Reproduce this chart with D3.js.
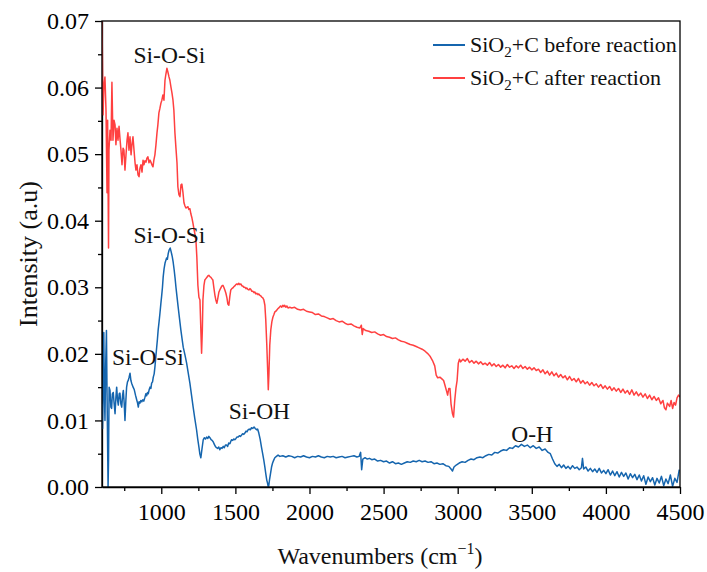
<!DOCTYPE html>
<html>
<head>
<meta charset="utf-8">
<script src="https://cdn.jsdelivr.net/npm/d3@7"></script>
<style>
  body { margin: 0; background: #fff; }
  svg text { font-family: "Liberation Serif", "Times New Roman", "DejaVu Serif", serif; }
</style>
</head>
<body>
<div id="chart"></div>
<script>
(function() {
    const width = 707;
    const height = 572;
    const margin = { top: 21, right: 27, bottom: 85, left: 102 };
    const plotW = width - margin.left - margin.right;
    const plotH = height - margin.top - margin.bottom;
    const serif = "'Liberation Serif', 'Times New Roman', serif";

    // FTIR spectra: [wavenumber, intensity]
    const beforeReaction = [
        [600,0.0125],[604,0.0088],[608,0.0150],[612,0.0232],[616,0.0140],[620,0.0100],[625,0.0185],[630,0.0235],
        [634,0.0140],[638,0.0060],[641,0.0000],[644,0.0040],[648,0.0150],[654,0.0145],[660,0.0120],[665,0.0118],
        [670,0.0140],[676,0.0142],[682,0.0125],[688,0.0110],[694,0.0135],[699,0.0150],[705,0.0130],[710,0.0123],
        [716,0.0140],[721,0.0141],[727,0.0125],[733,0.0120],[739,0.0138],[744,0.0145],[750,0.0125],[755,0.0100],
        [761,0.0130],[766,0.0150],[772,0.0158],[777,0.0160],[783,0.0165],[789,0.0171],[795,0.0160],[800,0.0156],
        [810,0.0150],[818,0.0146],[826,0.0138],[834,0.0131],[840,0.0126],[845,0.0120],[850,0.0128],[856,0.0126],
        [862,0.0130],[868,0.0128],[875,0.0131],[882,0.0129],[890,0.0135],[896,0.0140],[901,0.0137],[907,0.0142],
        [912,0.0140],[918,0.0146],[924,0.0150],[930,0.0148],[935,0.0156],[941,0.0158],[946,0.0165],[952,0.0170],
        [957,0.0180],[963,0.0195],[969,0.0210],[974,0.0222],[979,0.0236],[985,0.0248],[991,0.0261],[997,0.0275],
        [1002,0.0286],[1008,0.0300],[1013,0.0316],[1019,0.0328],[1025,0.0336],[1030,0.0340],[1036,0.0344],[1041,0.0342],
        [1047,0.0351],[1053,0.0356],[1060,0.0359],[1066,0.0354],[1070,0.0350],[1074,0.0346],[1080,0.0338],[1087,0.0326],
        [1093,0.0314],[1099,0.0300],[1106,0.0286],[1114,0.0270],[1123,0.0253],[1132,0.0236],[1140,0.0223],[1148,0.0210],
        [1160,0.0198],[1171,0.0186],[1182,0.0171],[1193,0.0156],[1204,0.0138],[1215,0.0120],[1226,0.0103],[1238,0.0086],
        [1246,0.0072],[1254,0.0060],[1260,0.0050],[1267,0.0044],[1274,0.0056],[1283,0.0071],[1290,0.0074],[1298,0.0072],
        [1306,0.0075],[1314,0.0073],[1321,0.0076],[1328,0.0074],[1336,0.0071],[1343,0.0070],[1350,0.0068],[1358,0.0064],
        [1365,0.0061],[1373,0.0059],[1380,0.0058],[1388,0.0060],[1395,0.0056],[1403,0.0059],[1410,0.0058],[1418,0.0061],
        [1425,0.0059],[1433,0.0063],[1440,0.0063],[1448,0.0061],[1455,0.0066],[1463,0.0065],[1470,0.0069],[1474,0.0071],
        [1482,0.0070],[1489,0.0072],[1496,0.0071],[1504,0.0073],[1511,0.0075],[1519,0.0075],[1527,0.0077],[1534,0.0076],
        [1542,0.0078],[1549,0.0080],[1557,0.0079],[1564,0.0081],[1572,0.0084],[1579,0.0083],[1586,0.0086],[1594,0.0087],
        [1601,0.0086],[1609,0.0089],[1617,0.0088],[1626,0.0090],[1634,0.0088],[1643,0.0086],[1650,0.0087],[1658,0.0081],
        [1667,0.0072],[1676,0.0060],[1684,0.0050],[1692,0.0040],[1699,0.0030],[1705,0.0020],[1712,0.0010],[1717,0.0006],
        [1722,0.0000],[1726,0.0003],[1731,0.0012],[1737,0.0020],[1744,0.0030],[1751,0.0036],[1758,0.0040],[1766,0.0044],
        [1777,0.0046],[1788,0.0048],[1800,0.0046],[1820,0.0047],[1840,0.0045],[1860,0.0047],[1880,0.0046],[1900,0.0044],
        [1920,0.0046],[1940,0.0045],[1960,0.0047],[1980,0.0045],[2000,0.0044],[2020,0.0046],[2040,0.0045],[2060,0.0047],
        [2080,0.0045],[2100,0.0044],[2120,0.0046],[2140,0.0045],[2160,0.0046],[2180,0.0044],[2200,0.0045],[2220,0.0046],
        [2240,0.0044],[2260,0.0045],[2280,0.0046],[2300,0.0047],[2320,0.0045],[2335,0.0046],[2345,0.0052],[2352,0.0026],
        [2360,0.0042],[2375,0.0044],[2390,0.0042],[2405,0.0043],[2420,0.0041],[2440,0.0042],[2460,0.0039],[2480,0.0040],
        [2500,0.0038],[2520,0.0039],[2540,0.0036],[2560,0.0038],[2580,0.0035],[2600,0.0036],[2620,0.0034],[2640,0.0036],
        [2660,0.0038],[2680,0.0037],[2700,0.0039],[2720,0.0038],[2740,0.0040],[2760,0.0038],[2780,0.0039],[2800,0.0037],
        [2820,0.0038],[2840,0.0035],[2860,0.0036],[2880,0.0034],[2900,0.0035],[2920,0.0032],[2940,0.0031],[2955,0.0027],
        [2965,0.0024],[2975,0.0030],[2990,0.0033],[3010,0.0036],[3030,0.0038],[3050,0.0037],[3070,0.0040],[3090,0.0042],
        [3110,0.0041],[3130,0.0044],[3150,0.0045],[3170,0.0044],[3190,0.0047],[3210,0.0049],[3230,0.0048],[3250,0.0052],
        [3270,0.0051],[3290,0.0054],[3310,0.0056],[3330,0.0055],[3350,0.0059],[3370,0.0058],[3390,0.0062],[3410,0.0060],
        [3430,0.0064],[3450,0.0061],[3470,0.0063],[3490,0.0059],[3510,0.0062],[3530,0.0058],[3550,0.0060],[3570,0.0055],
        [3590,0.0057],[3610,0.0052],[3625,0.0050],[3640,0.0042],[3655,0.0035],[3670,0.0031],[3685,0.0034],[3700,0.0029],
        [3715,0.0033],[3730,0.0028],[3745,0.0031],[3760,0.0027],[3775,0.0032],[3790,0.0028],[3805,0.0030],[3820,0.0026],
        [3835,0.0029],[3842,0.0043],[3850,0.0027],[3865,0.0030],[3880,0.0024],[3895,0.0028],[3910,0.0023],[3925,0.0027],
        [3940,0.0022],[3955,0.0028],[3970,0.0021],[3985,0.0025],[4000,0.0020],[4015,0.0026],[4030,0.0018],[4045,0.0024],
        [4060,0.0017],[4075,0.0023],[4090,0.0015],[4105,0.0022],[4120,0.0016],[4135,0.0021],[4150,0.0012],[4165,0.0020],
        [4180,0.0014],[4195,0.0019],[4210,0.0011],[4225,0.0018],[4240,0.0009],[4255,0.0017],[4270,0.0004],[4285,0.0015],
        [4300,0.0008],[4315,0.0014],[4330,0.0003],[4345,0.0013],[4360,0.0006],[4375,0.0016],[4390,0.0002],[4405,0.0012],
        [4420,0.0005],[4435,0.0018],[4450,0.0001],[4465,0.0013],[4480,0.0007],[4495,0.0026]
    ];

    const afterReaction = [
        [600,0.0700],[603,0.0640],[607,0.0559],[613,0.0604],[620,0.0616],[627,0.0566],[634,0.0442],[638,0.0551],
        [644,0.0359],[647,0.0506],[654,0.0536],[661,0.0521],[667,0.0608],[674,0.0521],[681,0.0551],[688,0.0544],
        [694,0.0514],[701,0.0539],[708,0.0521],[715,0.0542],[721,0.0524],[728,0.0506],[735,0.0484],[742,0.0509],
        [748,0.0506],[755,0.0476],[762,0.0499],[769,0.0521],[775,0.0532],[782,0.0506],[789,0.0526],[796,0.0499],
        [802,0.0514],[809,0.0526],[816,0.0506],[823,0.0487],[829,0.0476],[836,0.0484],[843,0.0469],[850,0.0466],
        [856,0.0479],[863,0.0484],[870,0.0473],[877,0.0491],[883,0.0484],[890,0.0490],[897,0.0488],[903,0.0494],
        [910,0.0496],[917,0.0487],[924,0.0491],[930,0.0488],[937,0.0484],[944,0.0481],[950,0.0491],[957,0.0499],
        [964,0.0514],[971,0.0532],[977,0.0544],[984,0.0562],[991,0.0569],[998,0.0577],[1004,0.0581],[1011,0.0589],
        [1018,0.0581],[1025,0.0611],[1031,0.0620],[1038,0.0629],[1045,0.0623],[1052,0.0616],[1058,0.0611],[1065,0.0601],
        [1072,0.0592],[1079,0.0581],[1085,0.0566],[1092,0.0532],[1099,0.0509],[1106,0.0487],[1112,0.0451],[1119,0.0439],
        [1126,0.0436],[1133,0.0454],[1139,0.0455],[1146,0.0443],[1153,0.0427],[1160,0.0422],[1166,0.0419],[1173,0.0420],
        [1180,0.0421],[1186,0.0417],[1193,0.0418],[1200,0.0410],[1207,0.0404],[1213,0.0397],[1220,0.0388],[1227,0.0380],
        [1234,0.0370],[1240,0.0345],[1247,0.0303],[1254,0.0285],[1261,0.0281],[1267,0.0236],[1272,0.0201],[1277,0.0236],
        [1281,0.0281],[1288,0.0303],[1294,0.0311],[1301,0.0313],[1308,0.0315],[1314,0.0317],[1321,0.0318],[1328,0.0316],
        [1335,0.0315],[1341,0.0313],[1348,0.0311],[1355,0.0299],[1362,0.0288],[1368,0.0281],[1375,0.0276],[1382,0.0284],
        [1389,0.0293],[1395,0.0296],[1402,0.0299],[1409,0.0302],[1416,0.0303],[1422,0.0300],[1429,0.0296],[1436,0.0291],
        [1443,0.0284],[1449,0.0275],[1456,0.0273],[1463,0.0287],[1469,0.0296],[1476,0.0298],[1483,0.0299],[1490,0.0301],
        [1496,0.0302],[1503,0.0304],[1510,0.0305],[1517,0.0304],[1523,0.0306],[1530,0.0304],[1537,0.0305],[1544,0.0302],
        [1550,0.0302],[1557,0.0300],[1564,0.0300],[1571,0.0298],[1577,0.0299],[1584,0.0297],[1591,0.0296],[1598,0.0298],
        [1604,0.0297],[1611,0.0294],[1618,0.0294],[1625,0.0292],[1631,0.0293],[1638,0.0290],[1645,0.0291],[1652,0.0289],
        [1658,0.0290],[1665,0.0288],[1672,0.0287],[1679,0.0285],[1685,0.0284],[1692,0.0281],[1699,0.0273],[1705,0.0251],
        [1712,0.0213],[1719,0.0168],[1722,0.0146],[1726,0.0168],[1732,0.0213],[1739,0.0236],[1746,0.0248],[1753,0.0255],
        [1760,0.0259],[1766,0.0263],[1773,0.0264],[1780,0.0266],[1787,0.0268],[1793,0.0269],[1800,0.0271],[1806,0.0272],
        [1813,0.0270],[1820,0.0273],[1827,0.0271],[1833,0.0273],[1840,0.0270],[1847,0.0272],[1855,0.0269],[1867,0.0270],
        [1880,0.0269],[1900,0.0270],[1920,0.0267],[1940,0.0266],[1960,0.0267],[1980,0.0264],[2000,0.0263],[2020,0.0262],
        [2040,0.0259],[2060,0.0260],[2080,0.0257],[2100,0.0256],[2120,0.0254],[2140,0.0252],[2160,0.0253],[2180,0.0250],
        [2200,0.0248],[2220,0.0249],[2240,0.0246],[2260,0.0244],[2280,0.0245],[2300,0.0242],[2320,0.0240],[2340,0.0239],
        [2350,0.0243],[2356,0.0229],[2362,0.0238],[2380,0.0235],[2400,0.0234],[2420,0.0232],[2440,0.0233],[2460,0.0230],
        [2480,0.0228],[2500,0.0229],[2520,0.0226],[2540,0.0225],[2560,0.0223],[2580,0.0224],[2600,0.0221],[2620,0.0219],
        [2640,0.0218],[2660,0.0216],[2680,0.0214],[2700,0.0213],[2720,0.0211],[2740,0.0209],[2760,0.0207],[2780,0.0204],
        [2800,0.0200],[2815,0.0196],[2830,0.0190],[2845,0.0182],[2855,0.0168],[2865,0.0164],[2880,0.0165],[2895,0.0162],
        [2905,0.0160],[2915,0.0152],[2925,0.0144],[2932,0.0138],[2940,0.0148],[2948,0.0148],[2955,0.0125],[2965,0.0110],
        [2972,0.0105],[2980,0.0130],[2988,0.0148],[2996,0.0160],[3004,0.0186],[3012,0.0192],[3020,0.0188],[3035,0.0192],
        [3050,0.0189],[3065,0.0193],[3080,0.0187],[3095,0.0190],[3110,0.0186],[3125,0.0189],[3140,0.0185],[3155,0.0188],
        [3170,0.0184],[3185,0.0186],[3200,0.0183],[3215,0.0187],[3230,0.0182],[3245,0.0185],[3260,0.0181],[3275,0.0184],
        [3290,0.0180],[3305,0.0183],[3320,0.0179],[3335,0.0184],[3350,0.0180],[3365,0.0182],[3380,0.0178],[3395,0.0182],
        [3410,0.0179],[3425,0.0183],[3440,0.0178],[3455,0.0181],[3470,0.0177],[3485,0.0180],[3500,0.0176],[3515,0.0179],
        [3530,0.0175],[3545,0.0177],[3560,0.0172],[3575,0.0176],[3590,0.0170],[3605,0.0174],[3620,0.0168],[3635,0.0173],
        [3650,0.0167],[3665,0.0171],[3680,0.0165],[3695,0.0169],[3710,0.0164],[3725,0.0167],[3740,0.0161],[3755,0.0166],
        [3770,0.0160],[3785,0.0163],[3800,0.0158],[3815,0.0163],[3830,0.0156],[3845,0.0160],[3860,0.0155],[3875,0.0158],
        [3890,0.0153],[3905,0.0157],[3920,0.0152],[3935,0.0155],[3950,0.0150],[3965,0.0154],[3980,0.0148],[3995,0.0152],
        [4010,0.0147],[4025,0.0151],[4040,0.0145],[4055,0.0149],[4070,0.0144],[4085,0.0148],[4100,0.0142],[4115,0.0147],
        [4130,0.0141],[4145,0.0145],[4160,0.0139],[4175,0.0146],[4190,0.0138],[4205,0.0143],[4220,0.0137],[4235,0.0141],
        [4250,0.0135],[4265,0.0140],[4280,0.0133],[4295,0.0138],[4310,0.0131],[4325,0.0136],[4340,0.0130],[4355,0.0134],
        [4370,0.0125],[4385,0.0130],[4395,0.0119],[4405,0.0116],[4415,0.0126],[4430,0.0121],[4440,0.0130],[4450,0.0118],
        [4460,0.0127],[4470,0.0123],[4480,0.0134],[4490,0.0138],[4500,0.0135]
    ];

    const seriesNames = ["before reaction", "after reaction"];
    const seriesColors = ["#1565ae", "#ff4040"];

    const xMajorTicks = [1000, 1500, 2000, 2500, 3000, 3500, 4000, 4500];
    const xMinorTicks = [750, 1250, 1750, 2250, 2750, 3250, 3750, 4250];
    const yMajorTicks = [0, 0.01, 0.02, 0.03, 0.04, 0.05, 0.06, 0.07];
    const yMinorTicks = [0.005, 0.015, 0.025, 0.035, 0.045, 0.055, 0.065];

    // peak labels: [text, wavenumber, intensity at baseline]
    const peakLabels = [
        ["Si-O-Si", 1055, 0.0637],
        ["Si-O-Si", 1055, 0.0366],
        ["Si-O-Si", 910, 0.0183],
        ["Si-OH", 1662, 0.0102],
        ["O-H", 3502, 0.0068]
    ];

    const svg = d3.select("#chart").append("svg")
        .attr("width", width)
        .attr("height", height)
        .attr("font-family", serif);

    const g = svg.append("g")
        .attr("transform", `translate(${margin.left},${margin.top})`);

    const x = d3.scaleLinear().domain([600, 4500]).range([0, plotW]);
    const y = d3.scaleLinear().domain([0, 0.07]).range([plotH, 0]);

    g.append("clipPath").attr("id", "plot-clip")
        .append("rect").attr("width", plotW).attr("height", plotH);

    // axes (major + minor ticks)
    g.append("g")
        .attr("transform", `translate(0,${plotH})`)
        .call(d3.axisBottom(x).tickValues(xMajorTicks).tickSize(7).tickSizeOuter(0).tickPadding(9)
            .tickFormat(d3.format("d")));
    g.append("g")
        .attr("transform", `translate(0,${plotH})`)
        .call(d3.axisBottom(x).tickValues(xMinorTicks).tickSize(4).tickSizeOuter(0).tickFormat(""))
        .select(".domain").remove();

    g.append("g")
        .call(d3.axisLeft(y).tickValues(yMajorTicks).tickSize(7).tickSizeOuter(0).tickPadding(6)
            .tickFormat(d3.format(".2f")));
    g.append("g")
        .call(d3.axisLeft(y).tickValues(yMinorTicks).tickSize(4).tickSizeOuter(0).tickFormat(""))
        .select(".domain").remove();

    g.selectAll("g").attr("font-family", serif);
    g.selectAll(".tick line").attr("stroke", "#000").attr("stroke-width", 1.3);
    g.selectAll(".domain").attr("stroke", "#000").attr("stroke-width", 1.3);
    g.selectAll(".tick text")
        .attr("fill", "#000")
        .attr("font-family", serif)
        .attr("font-size", 24);

    // spectra
    const line = d3.line()
        .x(d => x(d[0]))
        .y(d => y(d[1]));

    const lines = g.append("g").attr("clip-path", "url(#plot-clip)");
    [beforeReaction, afterReaction].forEach((data, i) => {
        lines.append("path")
            .datum(data)
            .attr("fill", "none")
            .attr("stroke", seriesColors[i])
            .attr("stroke-width", 1.5)
            .attr("stroke-linejoin", "round")
            .attr("d", line);
    });

    // frame
    g.append("rect")
        .attr("width", plotW).attr("height", plotH)
        .attr("fill", "none").attr("stroke", "#000").attr("stroke-width", 1.3);

    // peak labels
    g.selectAll(".peak")
        .data(peakLabels)
        .join("text")
        .attr("class", "peak")
        .attr("x", d => x(d[1]))
        .attr("y", d => y(d[2]))
        .attr("text-anchor", "middle")
        .attr("font-family", serif)
        .attr("font-size", 23.5)
        .attr("fill", "#111")
        .text(d => d[0]);

    // legend
    const legend = g.append("g").attr("transform", `translate(${plotW - 247}, 24)`);
    seriesNames.forEach((name, i) => {
        const row = legend.append("g").attr("transform", `translate(0, ${i * 33})`);
        row.append("line")
            .attr("x1", 0).attr("x2", 32)
            .attr("stroke", seriesColors[i]).attr("stroke-width", 2);
        const t = row.append("text")
            .attr("x", 37).attr("y", 7)
            .attr("font-family", serif)
            .attr("font-size", 22)
            .attr("fill", "#111");
        t.append("tspan").text("SiO");
        t.append("tspan").attr("dy", 5).attr("font-size", 15).text("2");
        t.append("tspan").attr("dy", -5).text("+C " + name);
    });

    // axis titles
    const xTitle = svg.append("text")
        .attr("x", 380)
        .attr("y", 564)
        .attr("text-anchor", "middle")
        .attr("font-family", serif)
        .attr("font-size", 24)
        .attr("fill", "#111");
    xTitle.append("tspan").text("Wavenumbers (cm");
    xTitle.append("tspan").attr("dy", -10).attr("font-size", 16).text("\u22121");
    xTitle.append("tspan").attr("dy", 10).text(")");

    svg.append("text")
        .attr("transform", `translate(37, ${margin.top + plotH / 2}) rotate(-90)`)
        .attr("text-anchor", "middle")
        .attr("font-family", serif)
        .attr("font-size", 26)
        .attr("fill", "#111")
        .text("Intensity (a.u)");
})();
</script>
</body>
</html>
